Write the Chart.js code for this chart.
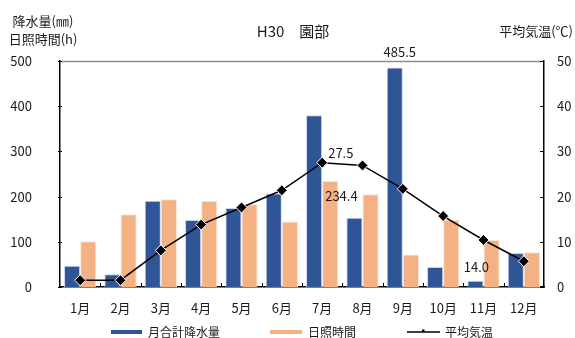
<!DOCTYPE html>
<html>
<head>
<meta charset="utf-8">
<script src="https://cdn.jsdelivr.net/npm/chart.js@4/dist/chart.umd.min.js"></script>
<style>
  html, body { margin: 0; padding: 0; background: #fff; }
  #wrap { width: 575px; height: 338px; }
</style>
</head>
<body>
<div id="wrap"><canvas id="c" width="575" height="338"></canvas></div>
<script>
// 園部 平成30年 月別気象データ
const months = ['1月','2月','3月','4月','5月','6月','7月','8月','9月','10月','11月','12月'];
const precipitation = [47, 28, 191, 148, 175, 207, 380, 153, 485.5, 44, 14.0, 75];   // 月合計降水量 (mm)
const sunshine = [101, 161, 194, 191, 183, 145, 234.4, 205, 72, 148, 104, 77];        // 日照時間 (h)
const temperature = [1.5, 1.5, 8.1, 13.8, 17.6, 21.4, 27.5, 26.9, 21.7, 15.7, 10.4, 5.7]; // 平均気温 (℃)
const leftTicks = [0, 100, 200, 300, 400, 500];
const rightTicks = [0, 10, 20, 30, 40, 50];

const FONT = '"Noto Sans CJK JP", "Noto Sans", sans-serif';
const TEXT = '#1a1a1a';
const BLUE = '#2F5597';
const ORANGE = '#F4B183';

// value labels: [datasetIndex, pointIndex, dx, dy, align]
const valueLabels = [
  [1, 8, 5, -15, 'center'],
  [1, 10, 1, -14, 'center'],
  [2, 6, 3, 15, 'left'],
  [0, 6, 6, -10, 'left']
];

const decor = {
  id: 'decor',
  afterDraw(chart) {
    const ctx = chart.ctx;
    const a = chart.chartArea;
    const x = chart.scales.x, yl = chart.scales.y, yr = chart.scales.y1;
    ctx.save();
    // top frame line
    ctx.strokeStyle = '#8c8c8c';
    ctx.lineWidth = 1.5;
    ctx.beginPath();
    ctx.moveTo(a.left, a.top + 0.5);
    ctx.lineTo(a.right, a.top + 0.5);
    ctx.stroke();
    // tick marks
    ctx.strokeStyle = '#000';
    ctx.lineWidth = 1;
    ctx.beginPath();
    leftTicks.forEach(v => {
      const py = Math.round(yl.getPixelForValue(v)) + 0.5;
      ctx.moveTo(a.left - 2, py); ctx.lineTo(a.left + 2, py);
    });
    rightTicks.forEach(v => {
      const py = Math.round(yr.getPixelForValue(v)) + 0.5;
      ctx.moveTo(a.right - 4, py); ctx.lineTo(a.right, py);
    });
    for (let i = 1; i < months.length; i++) {
      const px = Math.round((x.getPixelForValue(i - 1) + x.getPixelForValue(i)) / 2) + 0.5;
      ctx.moveTo(px, a.bottom); ctx.lineTo(px, a.bottom - 4);
    }
    ctx.stroke();

    ctx.fillStyle = TEXT;
    ctx.textBaseline = 'middle';
    // title
    ctx.font = '15px ' + FONT;
    ctx.textAlign = 'center';
    ctx.fillText('H30\u3000園部', 293, 31);
    // axis titles
    ctx.font = '13px ' + FONT;
    ctx.fillText('降水量(㎜)', 43, 21);
    ctx.fillText('日照時間(h)', 43, 39);
    ctx.textAlign = 'right';
    ctx.fillText('平均気温(℃)', 573, 31);

    // value labels taken from the data
    ctx.font = '13px ' + FONT;
    valueLabels.forEach(([di, pi, dx, dy, al]) => {
      const el = chart.getDatasetMeta(di).data[pi];
      const v = chart.data.datasets[di].data[pi];
      ctx.textAlign = al;
      const px = al === 'left' && di === 2 ? el.x - el.width / 2 + dx : el.x + dx;
      ctx.fillText(v.toFixed(1), px, el.y + dy);
    });

    // legend
    const ly = 332;
    ctx.font = '12px ' + FONT;
    ctx.textAlign = 'left';
    ctx.lineWidth = 4;
    ctx.strokeStyle = BLUE;
    ctx.beginPath(); ctx.moveTo(111, ly); ctx.lineTo(142, ly); ctx.stroke();
    ctx.fillText('月合計降水量', 148, ly);
    ctx.strokeStyle = ORANGE;
    ctx.beginPath(); ctx.moveTo(270, ly); ctx.lineTo(302, ly); ctx.stroke();
    ctx.fillText('日照時間', 308, ly);
    ctx.strokeStyle = '#000';
    ctx.lineWidth = 1.5;
    ctx.beginPath(); ctx.moveTo(407, ly); ctx.lineTo(440, ly); ctx.stroke();
    ctx.fillStyle = '#000';
    ctx.fillRect(422, ly - 2.5, 2.5, 2.5);
    ctx.fillStyle = TEXT;
    ctx.fillText('平均気温', 445, ly);
    ctx.restore();
  }
};

new Chart(document.getElementById('c'), {
  data: {
    labels: months,
    datasets: [
      {
        type: 'line', label: '平均気温', data: temperature, yAxisID: 'y1', order: 0,
        borderColor: '#000', borderWidth: 1.5, tension: 0,
        pointStyle: 'rectRot', pointRadius: 5.5, pointBackgroundColor: '#000',
        pointBorderColor: '#fff', pointBorderWidth: 1
      },
      {
        type: 'bar', label: '月合計降水量', data: precipitation, yAxisID: 'y', order: 1,
        backgroundColor: BLUE, borderColor: '#c9d5ec', borderWidth: 1,
        categoryPercentage: 0.8, barPercentage: 1.0
      },
      {
        type: 'bar', label: '日照時間', data: sunshine, yAxisID: 'y', order: 2,
        backgroundColor: ORANGE, borderColor: '#fbe3d2', borderWidth: 1,
        categoryPercentage: 0.8, barPercentage: 1.0
      }
    ]
  },
  options: {
    responsive: false,
    animation: false,
    devicePixelRatio: 1,
    layout: { padding: { top: 61, left: 0, right: 0, bottom: 0 } },
    plugins: { legend: { display: false }, title: { display: false }, tooltip: { enabled: false } },
    scales: {
      x: {
        grid: { display: false },
        border: { display: true, color: '#000', width: 1.5 },
        ticks: { color: TEXT, font: { family: FONT, size: 13 }, padding: 5, maxRotation: 0 },
        afterFit(s) { s.height = 51; }
      },
      y: {
        position: 'left', min: 0, max: 500,
        grid: { display: false },
        border: { display: true, color: '#000', width: 1.5 },
        afterBuildTicks(s) { s.ticks = leftTicks.map(v => ({ value: v })); },
        ticks: { color: TEXT, font: { family: FONT, size: 13 }, padding: 20 },
        afterFit(s) { s.width = 60; }
      },
      y1: {
        position: 'right', min: 0, max: 50,
        grid: { display: false },
        border: { display: true, color: '#000', width: 1.5 },
        afterBuildTicks(s) { s.ticks = rightTicks.map(v => ({ value: v })); },
        ticks: { color: TEXT, font: { family: FONT, size: 13 }, padding: 5 },
        afterFit(s) { s.width = 31; }
      }
    }
  },
  plugins: [decor]
});
</script>
</body>
</html>
